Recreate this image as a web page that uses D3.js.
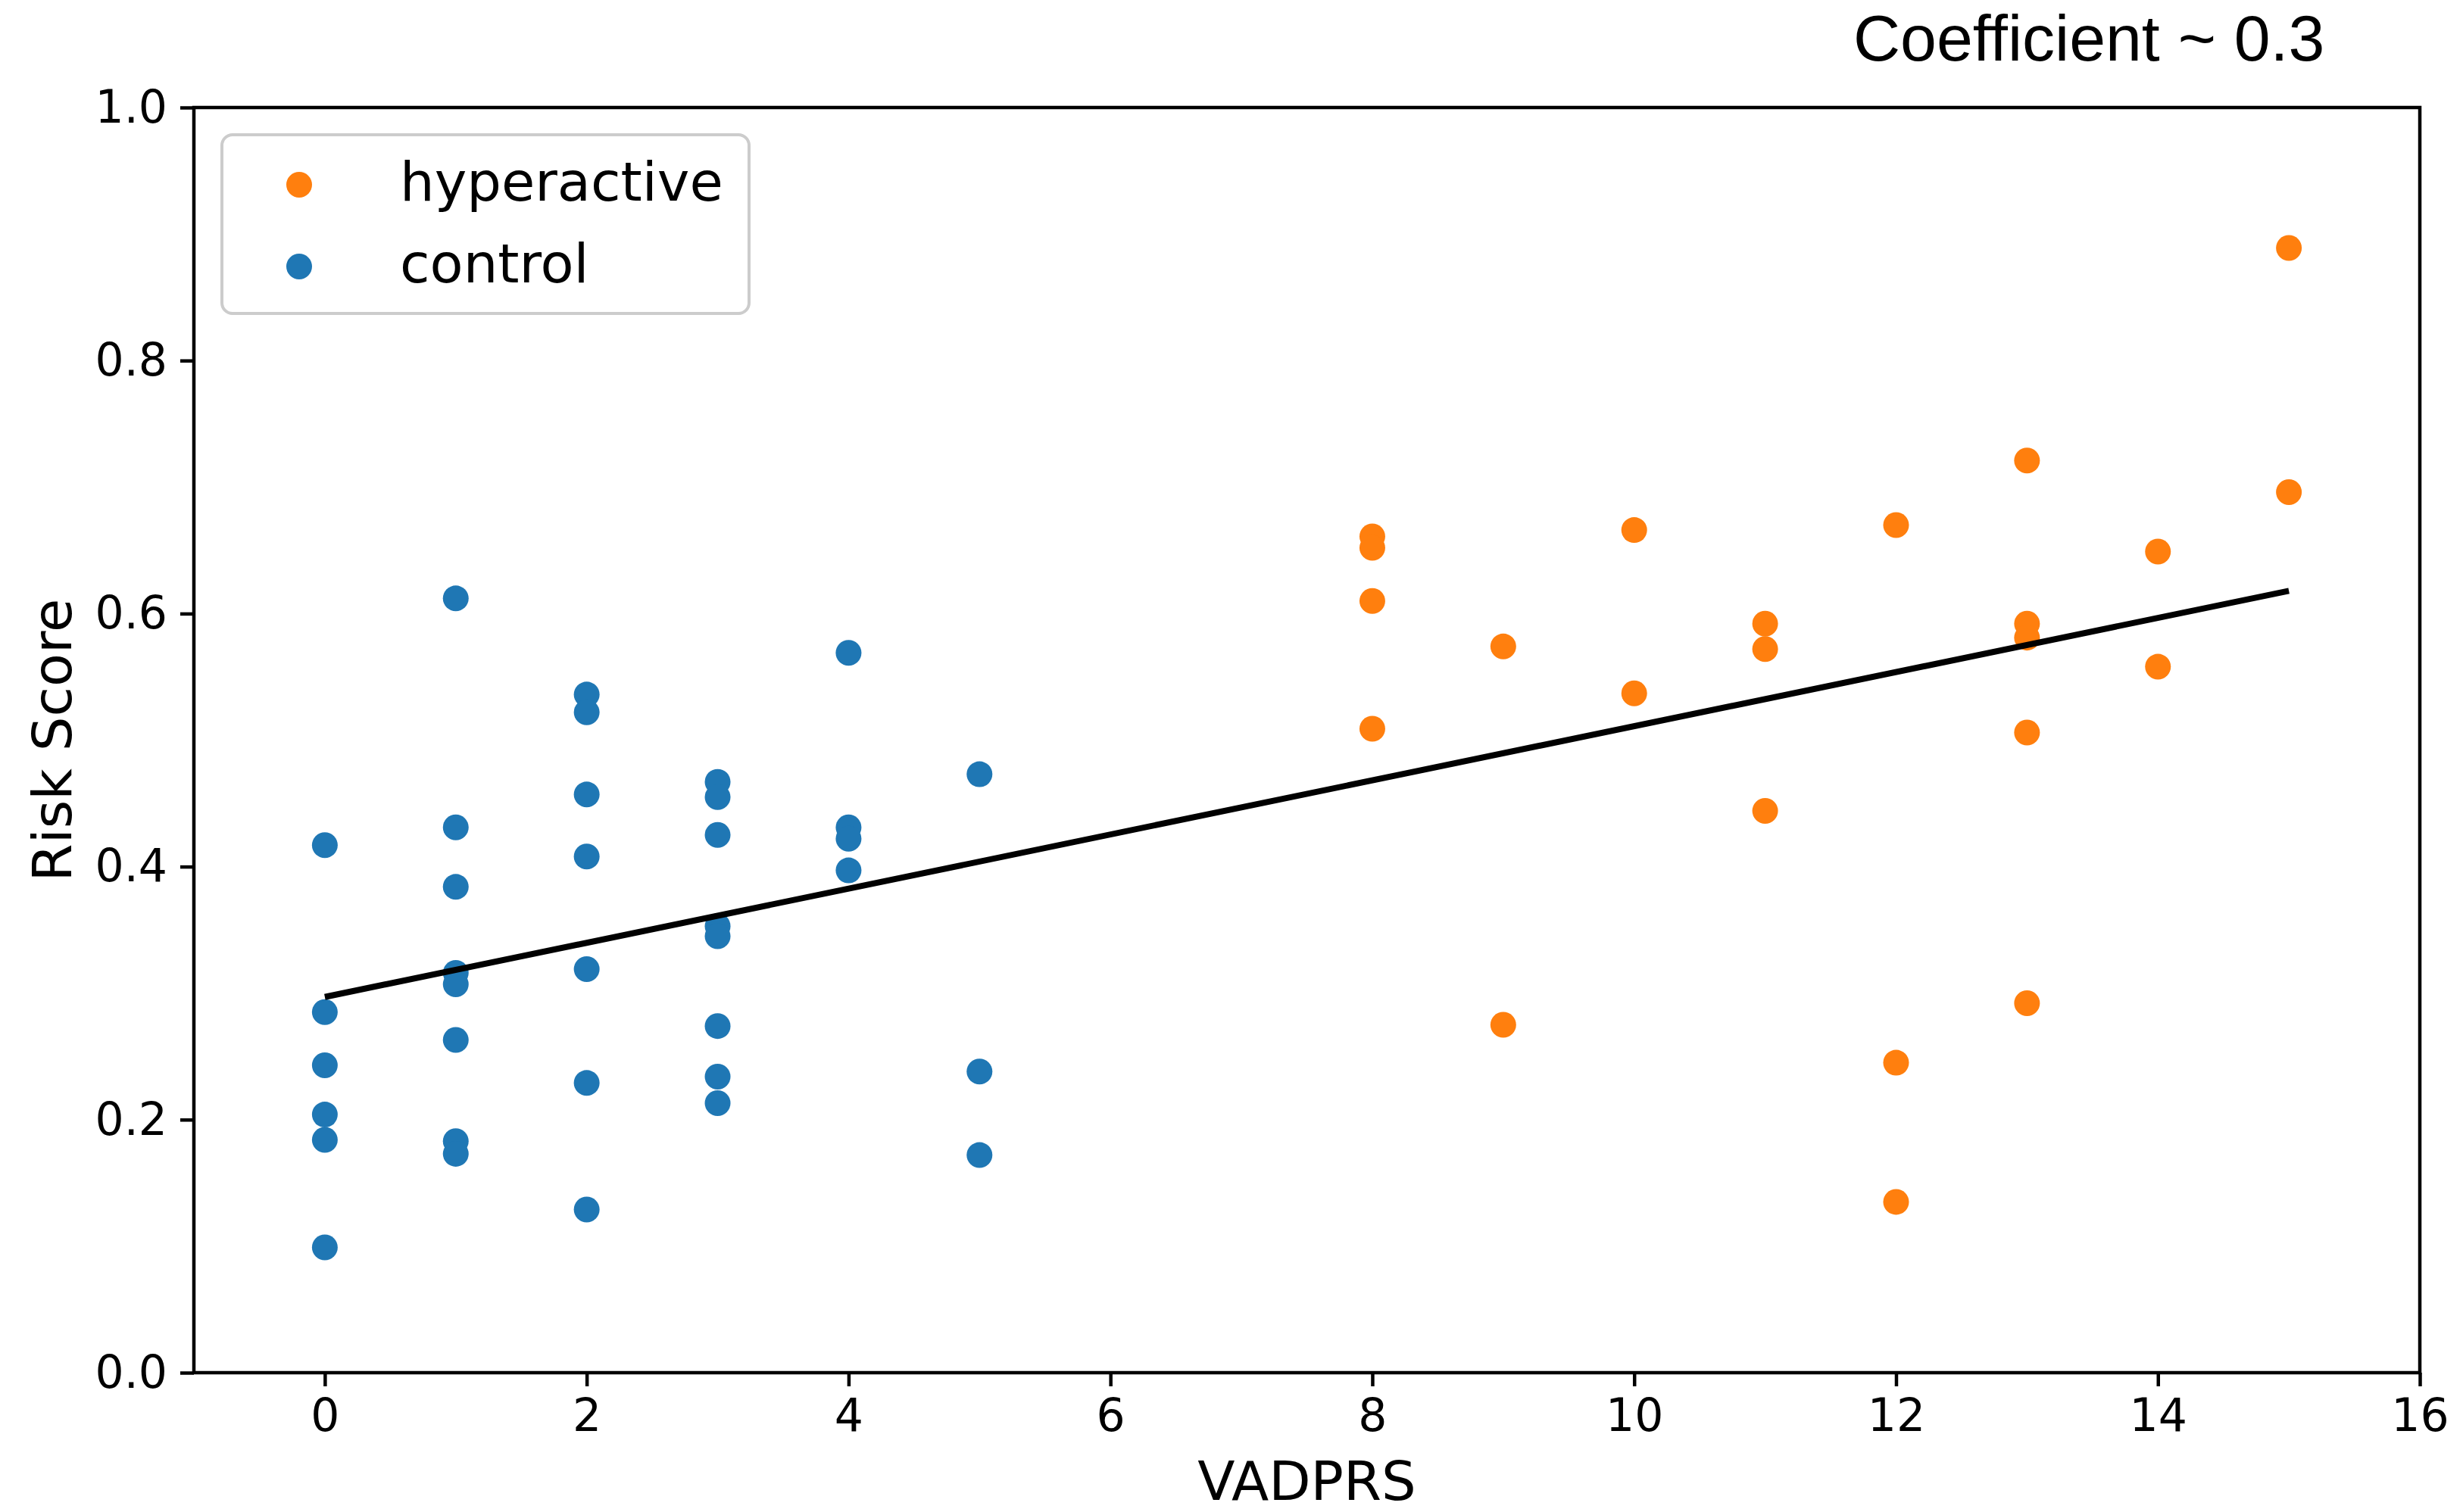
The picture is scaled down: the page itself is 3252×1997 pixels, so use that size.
<!DOCTYPE html>
<html>
<head>
<meta charset="utf-8">
<script src="https://cdn.jsdelivr.net/npm/d3@7"></script>
<style>
  body { margin: 0; background: #fff; }
  text { font-family: "DejaVu Sans", sans-serif; fill: #000; }
</style>
</head>
<body>
<div id="chart"></div>
<script>
// figure size
const width = 3252;
const height = 1997;
const plot = {left: 256, right: 3195, top: 142, bottom: 1813};

// control group (VADPRS, risk score)
const controlX = [0, 0, 0, 0, 0, 0,
                  1, 1, 1, 1, 1, 1, 1, 1,
                  2, 2, 2, 2, 2, 2, 2,
                  3, 3, 3, 3, 3, 3, 3, 3,
                  4, 4, 4, 4,
                  5, 5, 5];
const controlY = [0.417, 0.285, 0.243, 0.204, 0.184, 0.099,
                  0.612, 0.431, 0.384, 0.316, 0.307, 0.263, 0.183, 0.173,
                  0.536, 0.522, 0.457, 0.408, 0.319, 0.229, 0.129,
                  0.467, 0.455, 0.425, 0.353, 0.345, 0.274, 0.234, 0.213,
                  0.569, 0.431, 0.422, 0.397,
                  0.473, 0.238, 0.172];

// hyperactive group
const hyperX = [8, 8, 8, 8,
                9, 9,
                10, 10,
                11, 11, 11,
                12, 12, 12,
                13, 13, 13, 13, 13,
                14, 14,
                15, 15];
const hyperY = [0.661, 0.652, 0.610, 0.509,
                0.574, 0.275,
                0.666, 0.537,
                0.592, 0.572, 0.444,
                0.670, 0.245, 0.135,
                0.721, 0.592, 0.581, 0.506, 0.292,
                0.649, 0.558,
                0.889, 0.696];

// fitted line, from the smallest to the largest VADPRS
const fitX = [0, 15];
const fitY = [0.297, 0.618];

const xTicks = [0, 2, 4, 6, 8, 10, 12, 14, 16];
const yTicks = [0.0, 0.2, 0.4, 0.6, 0.8, 1.0];

const legendNames = ["hyperactive", "control"];
const colors = ["#ff7f0e", "#1f77b4"];

const svg = d3.select("#chart").append("svg")
    .attr("width", width)
    .attr("height", height);

const x = d3.scaleLinear().domain([-1, 16]).range([plot.left, plot.right]);
const y = d3.scaleLinear().domain([0, 1]).range([plot.bottom, plot.top]);

// x axis
const xAxis = svg.append("g")
    .attr("transform", "translate(0," + plot.bottom + ")")
    .call(d3.axisBottom(x).tickValues(xTicks).tickSize(18).tickSizeOuter(0).tickPadding(16)
        .tickFormat(d3.format("d")));
xAxis.select(".domain").remove();
xAxis.selectAll("line").attr("stroke", "#000").attr("stroke-width", 4.5);
xAxis.selectAll("text").style("font-size", "60px").attr("fill", "#000");

// y axis
const yAxis = svg.append("g")
    .attr("transform", "translate(" + plot.left + ",0)")
    .call(d3.axisLeft(y).tickValues(yTicks).tickSize(18).tickSizeOuter(0).tickPadding(17)
        .tickFormat(d3.format(".1f")));
yAxis.select(".domain").remove();
yAxis.selectAll("line").attr("stroke", "#000").attr("stroke-width", 4.5);
yAxis.selectAll("text").style("font-size", "60px").attr("fill", "#000");

// points: hyperactive first, control on top
const hyper = hyperX.map((d, i) => ({x: d, y: hyperY[i]}));
const control = controlX.map((d, i) => ({x: d, y: controlY[i]}));

svg.append("g").selectAll("circle")
    .data(hyper)
    .join("circle")
    .attr("cx", d => x(d.x))
    .attr("cy", d => y(d.y))
    .attr("r", 17)
    .attr("fill", colors[0]);

svg.append("g").selectAll("circle")
    .data(control)
    .join("circle")
    .attr("cx", d => x(d.x))
    .attr("cy", d => y(d.y))
    .attr("r", 17)
    .attr("fill", colors[1]);

// regression line
const fit = fitX.map((d, i) => ({x: d, y: fitY[i]}));
svg.append("path")
    .datum(fit)
    .attr("d", d3.line().x(d => x(d.x)).y(d => y(d.y)))
    .attr("fill", "none")
    .attr("stroke", "#000")
    .attr("stroke-width", 8);

// frame
svg.append("rect")
    .attr("x", plot.left)
    .attr("y", plot.top)
    .attr("width", plot.right - plot.left)
    .attr("height", plot.bottom - plot.top)
    .attr("fill", "none")
    .attr("stroke", "#000")
    .attr("stroke-width", 4.5);

// legend
const legend = svg.append("g");
legend.append("rect")
    .attr("x", 293).attr("y", 178)
    .attr("width", 696).attr("height", 236)
    .attr("rx", 14)
    .attr("fill", "#fff").attr("fill-opacity", 0.8)
    .attr("stroke", "#cccccc").attr("stroke-width", 4);

const legendRow = legend.selectAll("g.row")
    .data(legendNames)
    .join("g")
    .attr("class", "row")
    .attr("transform", (d, i) => "translate(0," + (244 + i * 108) + ")");

legendRow.append("circle")
    .attr("cx", 395)
    .attr("r", 17)
    .attr("fill", (d, i) => colors[i]);

legendRow.append("text")
    .attr("x", 528)
    .attr("y", 21)
    .style("font-size", "72px")
    .text(d => d);

// axis labels
svg.append("text")
    .attr("x", (plot.left + plot.right) / 2)
    .attr("y", 1981)
    .attr("text-anchor", "middle")
    .style("font-size", "72px")
    .text("VADPRS");

svg.append("text")
    .attr("transform", "translate(94," + (plot.top + plot.bottom) / 2 + ") rotate(-90)")
    .attr("text-anchor", "middle")
    .style("font-size", "72px")
    .text("Risk Score");

// note at the top right
svg.append("text")
    .attr("x", 2447)
    .attr("y", 80)
    .style("font-family", "'Liberation Sans', Arial, sans-serif")
    .style("font-size", "86px")
    .text("Coefficient ~ 0.3");
</script>
</body>
</html>
